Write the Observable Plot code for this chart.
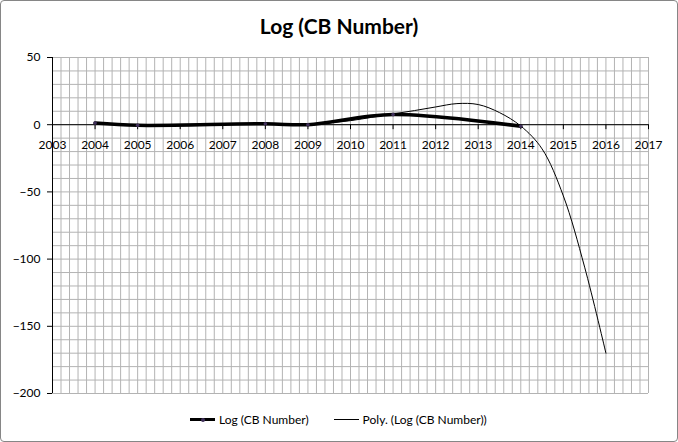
<!DOCTYPE html>
<html>
<head>
<meta charset="utf-8">
<script src="https://cdn.jsdelivr.net/npm/d3@7"></script>
<script src="https://cdn.jsdelivr.net/npm/@observablehq/plot@0.6"></script>
<style>
  html, body { margin: 0; padding: 0; background: #fff; }
  #wrap { position: relative; width: 678px; height: 442px; box-sizing: border-box; font-family: Lato, "Open Sans", sans-serif; }
  #frame { position: absolute; left: 0; top: 0; width: 678px; height: 442px; box-sizing: border-box; border: 1px solid #868686; border-radius: 4px; pointer-events: none; }
  #title { position: absolute; left: 0; width: 678px; top: 13px; text-align: center; font-weight: bold; font-size: 21px; color: #000; }
  #legend { position: absolute; top: 411px; left: 190px; font-size: 12px; color: #000; display: flex; align-items: center; }
  .item { display: flex; align-items: center; }
  .sw { position: relative; width: 25px; height: 16px; margin-right: 4px; }
  .sw .ln { position: absolute; left: 0; width: 25px; top: 8px; background: #000; }
  .sw .mk { position: absolute; left: 10.5px; top: 6.5px; width: 4px; height: 4px; border-radius: 50%; background: #40305a; }
</style>
</head>
<body>
<div id="wrap">
  <div id="chart"></div>
  <div id="title">Log (CB Number)</div>
  <div id="legend">
    <div class="item"><div class="sw"><div class="ln" style="height:3px;margin-top:-1.5px"></div><div class="mk"></div></div><span>Log (CB Number)</span></div>
    <div class="item" style="margin-left:25px"><div class="sw"><div class="ln" style="height:1px;margin-top:0px"></div></div><span>Poly. (Log (CB Number))</span></div>
  </div>
  <div id="frame"></div>
</div>
<script>
// Data series: Log (CB Number)
const years = [2004, 2005, 2008, 2009, 2011, 2014];
const values = [1.2, -0.5, 0.7, 0.0, 7.5, -1.2];

// Polynomial trendline
const trendX = [2004, 2005, 2006, 2007, 2008, 2009, 2009.5, 2010, 2010.5, 2011, 2011.5, 2012, 2012.5, 2013, 2013.5, 2014, 2014.5, 2015, 2015.5, 2016];
const trendY = [1.5, 0.0, 0.3, 0.8, 0.6, 0.5, 1.5, 3.0, 5.5, 8.0, 10.5, 13.2, 15.7, 15.0, 9.0, -1.0, -18, -53, -106, -170];

// Axis ticks
const xTicks = d3.range(2003, 2018, 1);
const yTicks = [-200, -150, -100, -50, 0, 50];
const xMinor = d3.range(0, 71).map(i => 2003 + i * 0.2);
const yMinor = d3.range(-200, 51, 10);

const series = years.map((x, i) => ({x, y: values[i]}));
const trend = trendX.map((x, i) => ({x, y: trendY[i]}));

const chart = Plot.plot({
  width: 678,
  height: 442,
  marginLeft: 52,
  marginRight: 30,
  marginTop: 57,
  marginBottom: 49,
  style: {fontFamily: "Lato, 'Open Sans', sans-serif", fontSize: "12px", background: "transparent", color: "#000"},
  x: {domain: [2003, 2017], axis: null},
  y: {domain: [-200, 50], axis: null},
  marks: [
    Plot.gridX(xMinor, {stroke: "#b3b3b3", strokeOpacity: 1}),
    Plot.gridY(yMinor, {stroke: "#b3b3b3", strokeOpacity: 1}),
    Plot.ruleY([0], {stroke: "#000"}),
    Plot.ruleX([2003], {stroke: "#000"}),
    Plot.ruleX(xTicks, {x: d => d, y1: 0, y2: 0, insetBottom: -5, stroke: "#000"}),
    Plot.text(xTicks, {x: d => d, y: 0, text: d => String(d), dy: 20, fill: "#000", fontSize: 12}),
    Plot.axisY(yTicks, {anchor: "left", label: null, tickSize: 5, tickPadding: 7, fontSize: 12, fill: "#000", stroke: "#000"}),
    Plot.line(trend, {x: "x", y: "y", curve: "catmull-rom", stroke: "#000", strokeWidth: 1}),
    Plot.line(series, {x: "x", y: "y", curve: "catmull-rom", stroke: "#000", strokeWidth: 3.5}),
    Plot.dot(series, {x: "x", y: "y", r: 1.8, fill: "#40305a", stroke: "none"})
  ]
});
document.getElementById("chart").appendChild(chart);
</script>
</body>
</html>
